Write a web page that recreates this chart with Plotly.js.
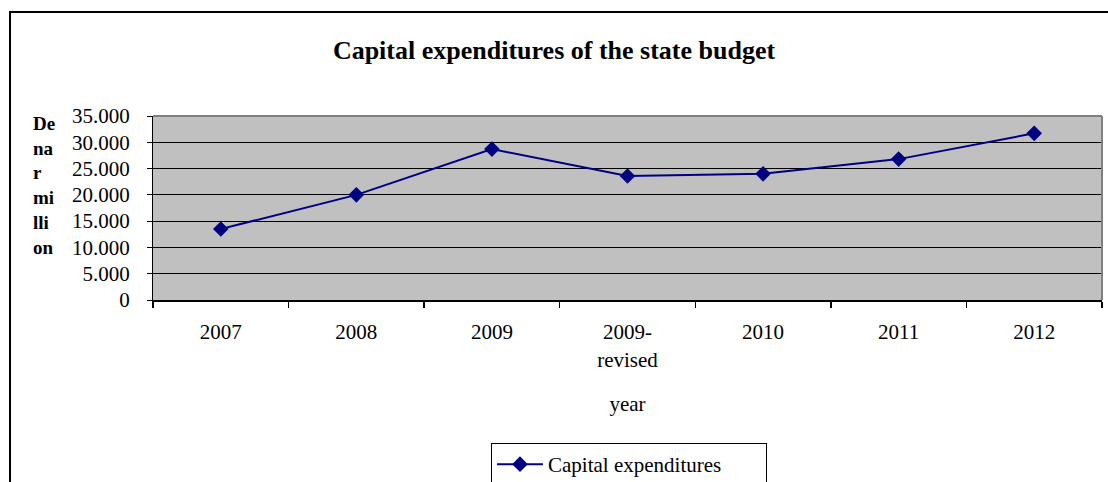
<!DOCTYPE html>
<html>
<head>
<meta charset="utf-8">
<script src="https://cdn.plot.ly/plotly-3.0.1.min.js"></script>
<style>
  html, body { margin: 0; padding: 0; background: #ffffff; }
  #chart { width: 1108px; height: 482px; }
</style>
</head>
<body>
<div id="chart"></div>
<script>
const categories = ["2007", "2008", "2009", "2009-<br>revised", "2010", "2011", "2012"];
const capitalExpenditures = [13500, 20000, 28700, 23600, 24000, 26800, 31700];
const yTickVals = [0, 5000, 10000, 15000, 20000, 25000, 30000, 35000];
const seriesName = "Capital expenditures";
const chartTitle = "Capital expenditures of the state budget";
const xTitle = "year";
const yTitle = "De<br>na<br>r<br>mi<br>lli<br>on";

const W = 1108, H = 482;
const L = 153, R = 6, T = 116, B = 182;
const pw = W - L - R, ph = H - T - B;
const px = v => (v - L) / pw;          // pixel x -> paper
const py = v => (H - B - v) / ph;      // pixel y -> paper

const font = "Liberation Serif, Times New Roman, serif";

const trace = {
  type: "scatter",
  mode: "lines+markers",
  x: categories,
  y: capitalExpenditures,
  name: seriesName,
  line: { color: "#000080", width: 2 },
  marker: { symbol: "diamond", size: 12, color: "#000080" },
  hoverinfo: "x+y"
};

const layout = {
  width: W, height: H,
  margin: { l: L, r: R, t: T, b: B, pad: 0, autoexpand: false },
  paper_bgcolor: "#ffffff",
  plot_bgcolor: "#C0C0C0",
  separators: ",.",
  font: { family: font, size: 21, color: "#000000" },
  title: {
    text: "<b>" + chartTitle + "</b>",
    font: { family: font, size: 26, color: "#000000" },
    x: 0.5, xref: "container", xanchor: "center",
    y: 1 - 50 / H, yref: "container", yanchor: "middle"
  },
  xaxis: {
    type: "category",
    tickson: "boundaries",
    ticks: "outside", ticklen: 6, tickwidth: 1.5, tickcolor: "#000000",
    showline: true, linecolor: "#000000", linewidth: 2,
    showgrid: false, zeroline: false,
    ticklabelstandoff: 12,
    tickfont: { family: font, size: 21, color: "#000000" },
    title: { text: xTitle, font: { family: font, size: 21, color: "#000000" }, standoff: 26 },
    range: [-0.5, 6.5],
    fixedrange: true,
    automargin: false
  },
  yaxis: {
    range: [0, 35000],
    tickmode: "array", tickvals: yTickVals,
    tickformat: ",.0f",
    ticks: "outside", ticklen: 5, tickwidth: 1, tickcolor: "#000000",
    showline: true, linecolor: "#000000", linewidth: 1,
    showgrid: true, gridcolor: "#000000", gridwidth: 1,
    zeroline: false,
    ticklabelstandoff: 13,
    tickfont: { family: font, size: 21, color: "#000000" },
    fixedrange: true,
    automargin: false
  },
  showlegend: true,
  legend: {
    orientation: "h",
    x: px(491), y: py(443), xanchor: "left", yanchor: "top",
    bgcolor: "#ffffff", bordercolor: "#000000", borderwidth: 1,
    font: { family: font, size: 21, color: "#000000" },
    itemwidth: 46,
    entrywidth: 213
  },
  annotations: [
    {
      xref: "paper", yref: "paper",
      x: px(44), y: py(111), xanchor: "center", yanchor: "top",
      text: "<b>" + yTitle + "</b>",
      showarrow: false, align: "left",
      font: { family: font, size: 19, color: "#000000" }
    }
  ],
  shapes: [
    // outer chart frame
    { type: "rect", xref: "paper", yref: "paper",
      x0: px(10), x1: px(1120), y0: py(520), y1: py(12),
      line: { color: "#000000", width: 2 }, fillcolor: "rgba(0,0,0,0)", layer: "below" },
    // plot area top and right borders (gray)
    { type: "line", xref: "paper", yref: "paper", x0: 0, x1: 1, y0: 1, y1: 1,
      line: { color: "#808080", width: 2 }, layer: "above" },
    { type: "line", xref: "paper", yref: "paper", x0: 1, x1: 1, y0: 0, y1: 1,
      line: { color: "#808080", width: 2 }, layer: "above" }
  ]
};

Plotly.newPlot("chart", [trace], layout, { displayModeBar: false, staticPlot: true });
</script>
</body>
</html>
